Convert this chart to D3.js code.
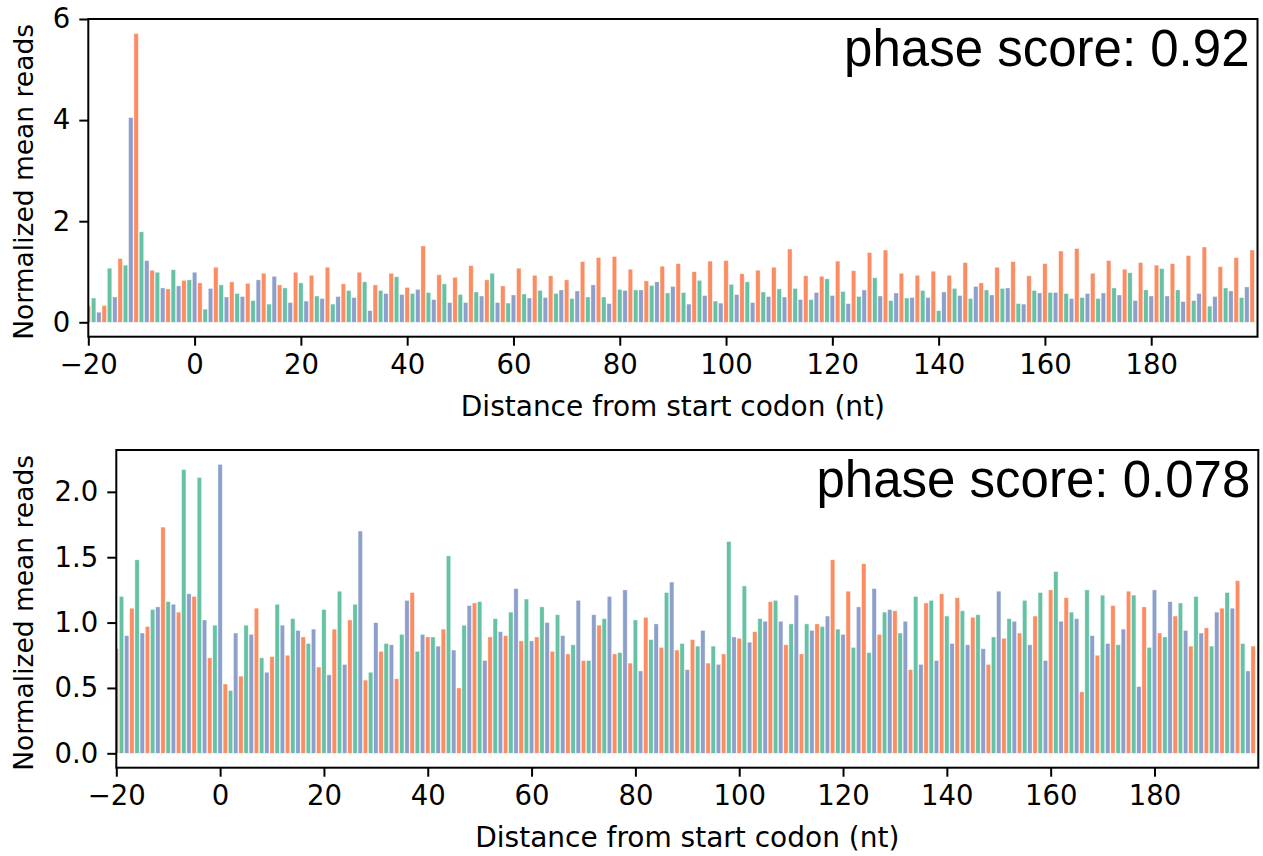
<!DOCTYPE html>
<html>
<head>
<meta charset="utf-8">
<script src="https://cdnjs.cloudflare.com/ajax/libs/d3/7.8.5/d3.min.js"></script>
<style>
  body { margin: 0; background: #fff; }
  .axis text { font-family: "DejaVu Sans", sans-serif; font-size: 27.5px; fill: #000; }
  .axis path, .axis line { stroke: #000; stroke-width: 2px; }
  .label { font-family: "DejaVu Sans", sans-serif; font-size: 28px; fill: #000; }
  .ylabel { font-size: 26.5px; }
  .score { font-family: "Liberation Sans", Arial, sans-serif; font-size: 51px; fill: #000; }
</style>
</head>
<body>
<div id="chart"></div>
<script>
// nt positions relative to the start codon
var positions = d3.range(-20, 200);

// frame colours (position mod 3)
var frameColors = ["#8da0cb", "#fc8d62", "#66c2a5"];

// top panel: normalized mean reads per position
var topValues = [
  0.32, 0.48, 0.20, 0.33, 1.07, 0.50, 1.26, 1.13, 4.05, 5.71, 1.79, 1.22, 1.03, 0.99, 0.68, 0.66, 1.04, 0.72, 0.83, 0.84,
  0.99, 0.78, 0.26, 0.67, 1.09, 0.74, 0.50, 0.80, 0.57, 0.51, 0.77, 0.43, 0.84, 0.97, 0.36, 0.91, 0.74, 0.68, 0.39, 0.99, 0.78, 0.42, 0.93, 0.52, 0.47,
  1.09, 0.36, 0.51, 0.76, 0.63, 0.49, 0.99, 0.80, 0.23, 0.74, 0.63, 0.57, 0.97, 0.90, 0.55, 0.69, 0.57, 0.65, 1.51, 0.59, 0.45, 0.94, 0.76, 0.39, 0.89, 0.55,
  0.39, 1.12, 0.60, 0.52, 0.84, 0.97, 0.39, 0.72, 0.38, 0.54, 1.07, 0.56, 0.48, 0.93, 0.63, 0.49, 0.92, 0.57,
  0.64, 0.84, 0.47, 0.62, 1.20, 0.50, 0.74, 1.28, 0.50, 0.37, 1.30, 0.65, 0.63, 1.05, 0.64, 0.64, 0.82, 0.73, 0.80, 1.11, 0.58, 0.71,
  1.16, 0.59, 0.36, 1.00, 0.83, 0.53, 1.21, 0.42, 0.38, 1.22, 0.75, 0.55, 0.96, 0.80, 0.39, 1.03, 0.60, 0.51, 1.09, 0.66, 0.50, 1.45,
  0.67, 0.45, 0.92, 0.45, 0.59, 0.91, 0.86, 0.53, 1.21, 0.61, 0.37, 1.02, 0.51, 0.64, 1.38, 0.88, 0.52, 1.43, 0.43, 0.58, 0.97, 0.48,
  0.49, 0.93, 0.63, 0.49, 1.01, 0.23, 0.60, 0.93, 0.67, 0.53, 1.18, 0.47, 0.71, 0.78, 0.64, 0.54, 1.09, 0.67, 0.68, 1.20, 0.37, 0.36, 0.92,
  0.63, 0.58, 1.16, 0.59, 0.59, 1.41, 0.57, 0.47, 1.46, 0.49, 0.57, 0.97, 0.47, 0.58, 1.22, 0.68, 0.54, 1.05, 0.98, 0.43, 1.18,
  0.64, 0.52, 1.13, 1.06, 0.52, 1.16, 0.64, 0.41, 1.32, 0.43, 0.57, 1.49, 0.32, 0.51, 1.10, 0.68, 0.62, 1.28, 0.49, 0.70, 1.43
];

// bottom panel
var bottomValues = [
  0.80, 1.20, 0.90, 1.11, 1.48, 0.92, 0.97, 1.10, 1.12, 1.73, 1.16, 1.14, 1.08, 2.17, 1.22, 1.20, 2.11, 1.02, 0.73, 0.98,
  2.21, 0.53, 0.48, 0.92, 0.59, 0.98, 0.91, 1.11, 0.73, 0.62, 0.74, 1.14, 0.98, 0.75, 1.03, 0.94, 0.89, 0.84, 0.95, 0.66, 1.10, 0.60, 0.95, 1.24, 0.68,
  1.02, 1.14, 1.70, 0.56, 0.62, 1.00, 0.78, 0.84, 0.83, 0.57, 0.91, 1.17, 1.23, 0.78, 0.91, 0.89, 0.89, 0.82, 0.95, 1.51, 0.79, 0.50,
  0.98, 1.13, 1.15, 1.16, 0.71, 0.89, 1.03, 0.93, 0.90, 1.08, 1.26, 0.86, 1.18, 0.86, 0.89, 1.12, 1.00, 0.78, 1.06, 0.90, 0.76, 0.83,
  1.17, 0.71, 0.71, 1.06, 0.98, 1.03, 1.20, 0.76, 0.77, 1.25, 0.69, 1.02, 0.63, 1.04, 0.87, 0.99, 0.81, 1.23, 1.31, 0.79, 0.84, 0.64,
  0.87, 0.82, 0.94, 0.69, 0.82, 0.68, 0.76, 1.62, 0.89, 0.88, 1.28, 0.85, 0.93, 1.03, 1.01, 1.16, 1.17, 1.01, 0.83, 0.99, 1.21, 0.76,
  0.99, 0.94, 0.99, 0.97, 1.05, 1.48, 0.95, 0.91, 1.24, 0.81, 1.12, 1.45, 0.77, 1.26, 0.91, 1.08, 1.10, 1.09, 0.92, 1.01, 0.64, 1.20,
  0.68, 1.15, 1.17, 0.71, 1.22, 1.05, 0.84, 1.19, 1.09, 0.83, 1.04, 1.06, 0.80, 0.68, 0.89, 1.24, 0.88, 1.03, 1.01, 0.92, 1.17, 0.83,
  1.05, 1.23, 0.71, 1.25, 1.39, 1.01, 1.19, 1.08, 1.03, 0.47, 1.25, 0.90, 0.75, 1.21, 0.84, 1.13, 0.83, 0.95, 1.24, 1.21, 0.51, 1.12,
  0.81, 1.25, 0.92, 0.89, 1.16, 1.05, 1.15, 0.94, 0.82, 1.20, 0.92, 0.96, 0.82, 1.08, 1.11, 1.23, 1.11, 1.32, 0.84, 0.63, 0.82
];

var xTicks = [-20, 0, 20, 40, 60, 80, 100, 120, 140, 160, 180];
var topYTicks = [0, 2, 4, 6];
var bottomYTicks = [0, 0.5, 1.0, 1.5, 2.0];
var scoreLabels = ["phase score: 0.92", "phase score: 0.078"];

var width = 1263, height = 856;

var svg = d3
  .select("#chart")
  .append("svg")
  .attr("width", width)
  .attr("height", height)
  .style("background", "#fff");

function fmtNum(f) {
  return function (d) {
    return f(d).replace("-", "\u2212");
  };
}

function drawPanel(id, values, box, yDomain, yTicks, yFormat, score) {
  var x = d3.scaleLinear().domain([-20, 200]).range([box.left, box.right]);
  var y = d3.scaleLinear().domain(yDomain).range([box.bottom, box.top]);
  var bw = (x(1) - x(0)) * 0.84;

  svg.append("clipPath")
    .attr("id", "clip" + id)
    .append("rect")
    .attr("x", box.left)
    .attr("y", box.top)
    .attr("width", box.right - box.left)
    .attr("height", box.bottom - box.top);

  var g = svg.append("g");

  g.append("g")
    .attr("clip-path", "url(#clip" + id + ")")
    .selectAll("rect")
    .data(positions)
    .enter()
    .append("rect")
    .attr("x", function (d) { return x(d) - bw / 2; })
    .attr("width", bw)
    .attr("y", function (d, i) { return y(values[i]); })
    .attr("height", function (d, i) { return y(0) - y(values[i]); })
    .style("fill", function (d) { return frameColors[((d % 3) + 3) % 3]; })
    .style("stroke", "rgba(255,255,255,0.55)")
    .style("stroke-width", 0.7);

  // frame
  g.append("rect")
    .attr("x", box.left)
    .attr("y", box.top)
    .attr("width", box.right - box.left)
    .attr("height", box.bottom - box.top)
    .style("fill", "none")
    .style("stroke", "#000")
    .style("stroke-width", 2);

  var xa = g.append("g")
    .attr("class", "axis")
    .attr("transform", "translate(0," + box.bottom + ")")
    .call(d3.axisBottom(x).tickValues(xTicks).tickSize(9).tickPadding(9).tickFormat(fmtNum(d3.format("d"))));
  xa.select(".domain").remove();

  var ya = g.append("g")
    .attr("class", "axis")
    .attr("transform", "translate(" + box.left + ",0)")
    .call(d3.axisLeft(y).tickValues(yTicks).tickSize(9).tickPadding(9).tickFormat(fmtNum(yFormat)));
  ya.select(".domain").remove();

  g.append("text")
    .attr("class", "label")
    .attr("x", (box.left + box.right) / 2)
    .attr("y", box.bottom + 79)
    .attr("text-anchor", "middle")
    .text("Distance from start codon (nt)");

  g.append("text")
    .attr("class", "label ylabel")
    .attr("transform", "translate(33," + ((box.top + box.bottom) / 2 + 4) + ") rotate(-90)")
    .attr("text-anchor", "middle")
    .text("Normalized mean reads");

  g.append("text")
    .attr("class", "score")
    .attr("x", box.right - 8)
    .attr("y", box.top + 47)
    .attr("text-anchor", "end")
    .text(score);
}

drawPanel("top", topValues, { left: 88.3, right: 1257.5, top: 19, bottom: 336.7 },
  [-0.285, 6.0], topYTicks, d3.format("d"), scoreLabels[0]);
drawPanel("bottom", bottomValues, { left: 116.3, right: 1258.3, top: 450, bottom: 767.7 },
  [-0.11, 2.32], bottomYTicks, d3.format(".1f"), scoreLabels[1]);
</script>
</body>
</html>
